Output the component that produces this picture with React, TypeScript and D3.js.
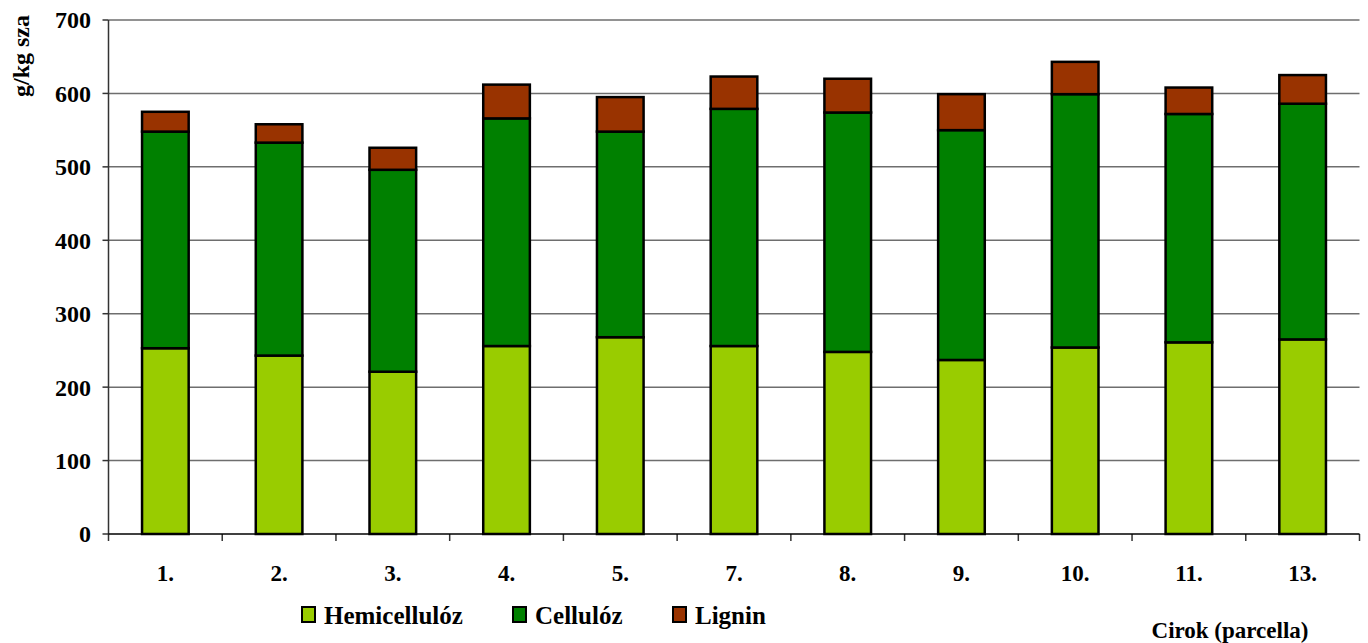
import React from "react";
import * as d3 from "d3";

const categories = ["1.", "2.", "3.", "4.", "5.", "7.", "8.", "9.", "10.", "11.", "13."];
const hemicellulose = [253, 243, 221, 256, 268, 256, 248, 237, 254, 261, 265];
const cellulose = [295, 290, 275, 310, 280, 323, 326, 313, 345, 311, 321];
const lignin = [27, 25, 30, 46, 47, 44, 46, 49, 44, 36, 39];
const seriesNames = ["Hemicellulóz", "Cellulóz", "Lignin"];
const seriesColors = ["#99CC00", "#008000", "#993300"];
const yTicks = [0, 100, 200, 300, 400, 500, 600, 700];

const W = 1368;
const H = 643;
const left = 108.5;
const right = 1359.5;
const top = 20;
const bottom = 534;
const FONT = '"Liberation Serif", "Times New Roman", Times, serif';

export default function App() {
  const x = d3.scaleBand<string>().domain(categories).range([left, right]).paddingInner(0.59).paddingOuter(0.295);
  const xOuter = d3.scaleBand<string>().domain(categories).range([left, right]);
  const y = d3.scaleLinear().domain([0, 700]).range([bottom, top]);

  const rows = categories.map((c, i) => ({ cat: c, h: hemicellulose[i], c: cellulose[i], l: lignin[i] }));
  const stack = d3.stack<any>().keys(["h", "c", "l"])(rows);

  const legendItems = [
    { sx: 302, tx: 324 },
    { sx: 513, tx: 535 },
    { sx: 673, tx: 695 },
  ];
  const ts = (size: number) => ({ fontFamily: FONT, fontSize: size, fontWeight: 700 as const });

  return (
    <svg width={W} height={H} style={{ position: "absolute", left: 0, top: 0, background: "#fff" }}>
      {yTicks.map((t) => (
        <g key={t}>
          {t > 0 && <line x1={left} x2={right} y1={y(t)} y2={y(t)} stroke="#6e6e6e" strokeWidth={1.5} />}
          <line x1={left - 6} x2={left} y1={y(t)} y2={y(t)} stroke="#333" strokeWidth={1.5} />
          <text x={91} y={y(t)} dy="0.35em" textAnchor="end" style={ts(24)} fill="#000">
            {t}
          </text>
        </g>
      ))}
      <line x1={left} x2={left} y1={top} y2={bottom + 7} stroke="#333" strokeWidth={1.5} />
      {categories.map((c) => (
        <line key={c} x1={(xOuter(c) as number) + xOuter.bandwidth()} x2={(xOuter(c) as number) + xOuter.bandwidth()} y1={bottom} y2={bottom + 7} stroke="#333" strokeWidth={1.5} />
      ))}
      {stack.map((s, si) => (
        <g key={si}>
          {s.map((d: any, i: number) => (
            <rect
              key={i}
              x={x(categories[i]) as number}
              width={x.bandwidth()}
              y={y(d[1])}
              height={y(d[0]) - y(d[1])}
              fill={seriesColors[si]}
              stroke="#000"
              strokeWidth={2.5}
            />
          ))}
        </g>
      ))}
      <line x1={left} x2={right} y1={bottom} y2={bottom} stroke="#000" strokeWidth={1.5} />
      {categories.map((c) => (
        <text key={c} x={(x(c) as number) + x.bandwidth() / 2} y={573} dy="0.35em" textAnchor="middle" style={ts(23)}>
          {c}
        </text>
      ))}
      <text transform={`translate(29,56) rotate(-90)`} textAnchor="middle" style={ts(24)}>
        g/kg sza
      </text>
      {seriesNames.map((n, i) => (
        <g key={n}>
          <rect x={legendItems[i].sx} y={607} width={13} height={15} fill={seriesColors[i]} stroke="#000" strokeWidth={2} />
          <text x={legendItems[i].tx} y={624} style={ts(25)}>
            {n}
          </text>
        </g>
      ))}
      <text x={1230} y={638} textAnchor="middle" style={ts(23)}>
        Cirok (parcella)
      </text>
    </svg>
  );
}
